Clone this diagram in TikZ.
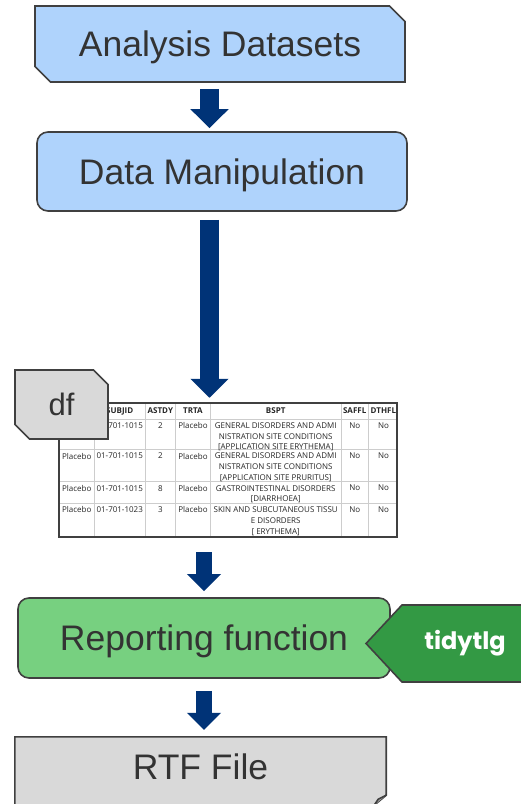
\documentclass[tikz,border=0pt]{standalone}
\usepackage{fontspec}
\setmainfont{Liberation Sans}
\newfontfamily\tblfont{Open Sans}
\newfontfamily\tagfont{Poppins}
\usepackage{tikz}
\usetikzlibrary{shapes.misc,shapes.symbols,arrows.meta,backgrounds}
\definecolor{inputblue}{RGB}{175,211,252}
\definecolor{stepgreen}{RGB}{119,208,128}
\definecolor{pkggreen}{RGB}{51,153,68}
\definecolor{filegray}{RGB}{217,217,217}
\definecolor{edgegray}{RGB}{64,64,64}
\definecolor{labelgray}{RGB}{51,51,51}
\definecolor{flowblue}{RGB}{0,51,119}
\definecolor{gridgray}{RGB}{205,205,205}

\tikzset{
  boxline/.style={draw=edgegray, line width=1.6pt},
  boxtext/.style={text=labelgray, text depth=0pt, font=\fontsize{35.5}{40}\selectfont},
  snipbox/.style={chamfered rectangle, chamfered rectangle xsep=12pt,
    chamfered rectangle corners={north east,south west}},
  flow/.style={flowblue, line width=19pt, -{Triangle[width=37pt,length=19pt]}},
  thinflow/.style={flowblue, line width=16pt, -{Triangle[width=33pt,length=17pt]}},
  cell/.style={font=\tblfont\fontsize{8}{10.7}\selectfont, inner sep=0pt,
    text=black!85, align=center, anchor=north},
}

\begin{document}
\begin{tikzpicture}[x=1pt, y=-1pt]
  \useasboundingbox (0,0) rectangle (520,804);
  \coordinate (spine) at (209.5,0);

  % inputs
  \node[boxline, fill=inputblue, snipbox, boxtext,
        minimum width=370pt, minimum height=76pt] (ad) at (220,44) {Analysis Datasets};
  \node[boxline, fill=inputblue, rounded corners=11pt, boxtext,
        minimum width=370pt, minimum height=79pt] (dm) at (222,171.5) {Data Manipulation};

  % data frame preview
  \node[fill=white, inner sep=0pt, minimum width=338pt, minimum height=134pt] (tbl) at (228,470) {};
  \begin{scope}
    \clip (tbl.north west) rectangle (tbl.south east);
    \foreach \cx in {94.3,145,175.7,210.3,341,368.3}
      \draw[gridgray, line width=0.8pt] (\cx,403) -- (\cx,537);
    \foreach \ry in {419,449.5,481.7,503.3}
      \draw[gridgray, line width=0.8pt] (59,\ry) -- (397,\ry);
    \foreach \name/\cx in {SUBJID/119.7, ASTDY/160.3, TRTA/193, BSPT/275.7, SAFFL/354.7}
      \node[cell, font=\tblfont\fontsize{8}{10.7}\selectfont\bfseries] (h-\name) at (\cx,407.5) {\name};
    \node[cell, font=\tblfont\fontsize{8}{10.7}\selectfont\bfseries, anchor=north west] (h-DTHFL) at (370.5,407.5) {DTHFL};
    \foreach \r/\top/\subj/\dy/\term in {
        1/419/01-701-1015/2/{GENERAL DISORDERS AND ADMI\\NISTRATION SITE CONDITIONS\\{}[APPLICATION SITE ERYTHEMA]},
        2/449.5/01-701-1015/2/{GENERAL DISORDERS AND ADMI\\NISTRATION SITE CONDITIONS\\{}[APPLICATION SITE PRURITUS]},
        3/481.7/01-701-1015/8/{GASTROINTESTINAL DISORDERS\\{}[DIARRHOEA]},
        4/503.3/01-701-1023/3/{SKIN AND SUBCUTANEOUS TISSU\\E DISORDERS\\{}[ ERYTHEMA]}} {
      \node[cell] (arm-\r) at (76.7,\top+3.3) {Placebo};
      \node[cell] (subj-\r) at (119.7,\top+3.3) {\subj};
      \node[cell] (dy-\r) at (160.3,\top+3.3) {\dy};
      \node[cell] (trt-\r) at (193,\top+3.3) {Placebo};
      \node[cell] (term-\r) at (275.7,\top+3.3) {\term};
      \node[cell] (saf-\r) at (354.7,\top+3.3) {No};
      \node[cell] (dth-\r) at (383.5,\top+3.3) {No};
    }
  \end{scope}
  \draw[draw=edgegray, line width=2pt] (tbl.north west) rectangle (tbl.south east);

  \node[boxline, fill=filegray, snipbox, text=labelgray, font=\fontsize{31}{36}\selectfont,
        chamfered rectangle xsep=11pt, minimum width=93pt, minimum height=69pt] (df) at (61.5,404.5) {df};

  % reporting
  \node[boxline, fill=stepgreen, rounded corners=11pt, boxtext,
        minimum width=372pt, minimum height=80pt] (rep) at (204,638) {Reporting function};
  \node[boxline, fill=pkggreen, signal, signal to=west, signal pointer angle=94,
        text=white, font=\tagfont\bfseries\fontsize{24}{28}\selectfont,
        minimum width=180pt, minimum height=77pt] (pkg) at (474,643.5) {\hspace*{-18pt}tidytlg};

  % output file
  \node[boxtext, minimum width=371pt, minimum height=68pt] (rtf) at (200.5,771) {\raisebox{9pt}{RTF File}};
  \begin{scope}[on background layer]
    \draw[boxline, fill=filegray] (rtf.south west) -- (rtf.north west) -- (rtf.north east)
      -- ([yshift=10pt]rtf.south east) -- ([xshift=-12pt]rtf.south east);
  \end{scope}
  \draw[boxline, fill=filegray!60!edgegray] ([yshift=10pt]rtf.south east) -- ++(-8pt,-4pt)
    -- ([xshift=-12pt]rtf.south east);

  % flow
  \draw[flow, shorten <=6pt, shorten >=3pt] (ad.south -| spine) -- (dm.north -| spine);
  \draw[flow, shorten <=8pt, shorten >=5pt] (dm.south -| spine) -- (tbl.north -| spine);
  \draw[thinflow, shorten <=15pt, shorten >=6pt] (tbl.south -| rep.north) -- (rep.north);
  \draw[thinflow, shorten <=12pt, shorten >=7pt] (rep.south) -- (rtf.north -| rep.south);
\end{tikzpicture}
\end{document}
